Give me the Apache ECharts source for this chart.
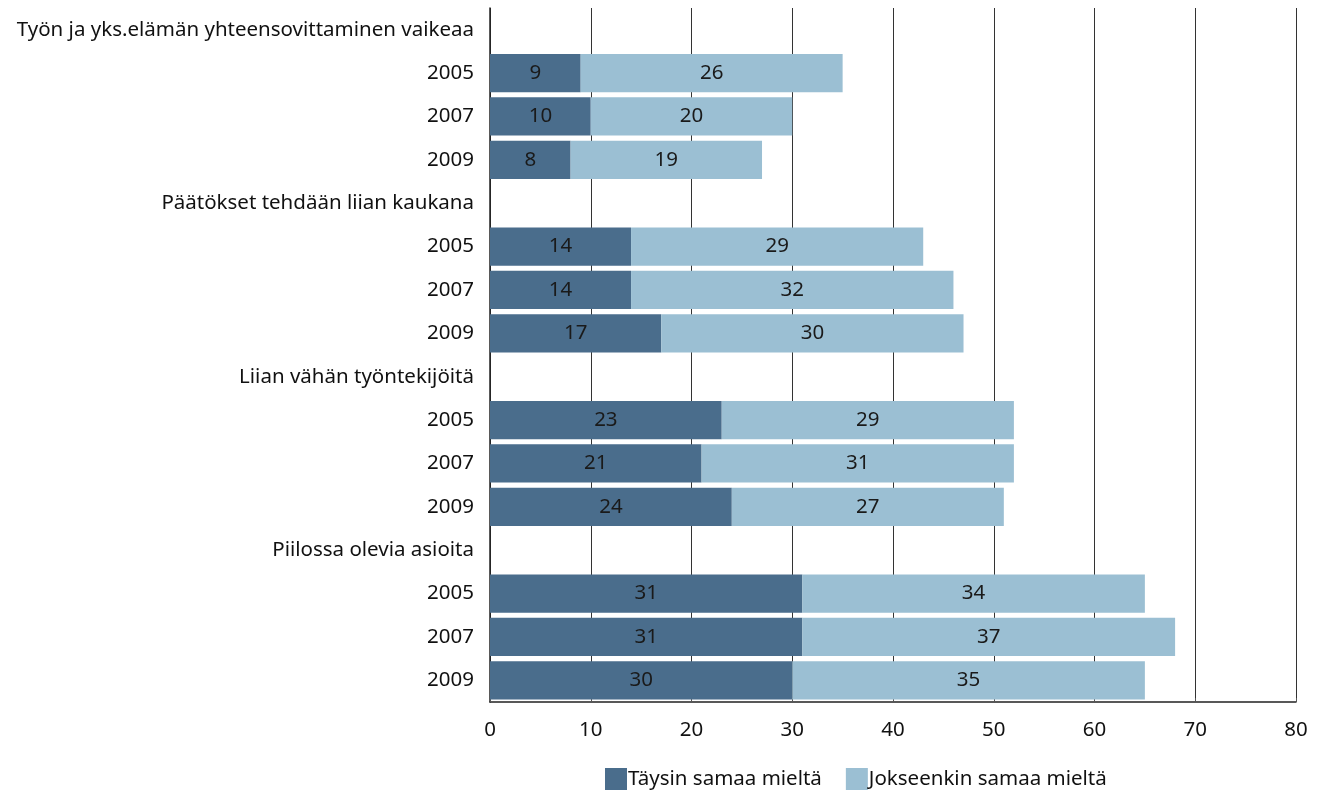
<!DOCTYPE html>
<html><head><meta charset="utf-8">
<script src="https://cdn.jsdelivr.net/npm/echarts@6/dist/echarts.min.js"></script>
<style>html,body{margin:0;padding:0;background:#fff}#c{width:1320px;height:793px}</style>
</head><body><div id="c"></div>
<script>
const categories = [
  'Työn ja yks.elämän yhteensovittaminen vaikeaa','2005','2007','2009',
  'Päätökset tehdään liian kaukana','2005 ','2007 ','2009 ',
  'Liian vähän työntekijöitä','2005  ','2007  ','2009  ',
  'Piilossa olevia asioita','2005   ','2007   ','2009   '
];
const taysin = ['-',9,10,8,'-',14,14,17,'-',23,21,24,'-',31,31,30];
const jokseenkin = ['-',26,20,19,'-',29,32,30,'-',29,31,27,'-',34,37,35];
const seriesNames = ['Täysin samaa mieltä','Jokseenkin samaa mieltä'];
const xTicks = [0,10,20,30,40,50,60,70,80];

const font = 'Noto Sans';
const fs = 20.5;
const chart = echarts.init(document.getElementById('c'));
const lbl = {show:true, position:'inside', color:'#1a1a1a', fontSize:fs, fontFamily:font,
  formatter: p => (p.value === '-' ? '' : p.value)};
chart.setOption({
  animation:false,
  textStyle:{fontFamily:font},
  grid:{left:490, right:24, top:8, bottom:91},
  xAxis:{type:'value', min:xTicks[0], max:xTicks[xTicks.length-1], interval:10,
    axisLine:{show:true, lineStyle:{color:'#222', width:1.5}},
    axisTick:{show:true, length:4, inside:true, lineStyle:{color:'#555'}},
    splitLine:{show:true, lineStyle:{color:'#333', width:1}},
    axisLabel:{color:'#111', fontSize:fs, fontFamily:font, margin:18}},
  yAxis:{type:'category', inverse:true, data:categories,
    axisLine:{show:true, lineStyle:{color:'#222', width:1.5}},
    axisTick:{show:false},
    axisLabel:{color:'#111', fontSize:fs, fontFamily:font, margin:16,
      formatter: v => v.trim()}},
  legend:{bottom:-2, left:600, icon:'rect', itemWidth:22, itemHeight:22, itemGap:24,
    textStyle:{color:'#111', fontSize:fs, fontFamily:font, padding:[0,0,0,-4]},
    data:seriesNames},
  series:[
    {name:seriesNames[0], type:'bar', stack:'a', data:taysin, barWidth:'88%',
      itemStyle:{color:'#4a6d8c'}, label:lbl},
    {name:seriesNames[1], type:'bar', stack:'a', data:jokseenkin, barWidth:'88%',
      itemStyle:{color:'#9bbfd3'}, label:lbl}
  ]
});
</script></body></html>
